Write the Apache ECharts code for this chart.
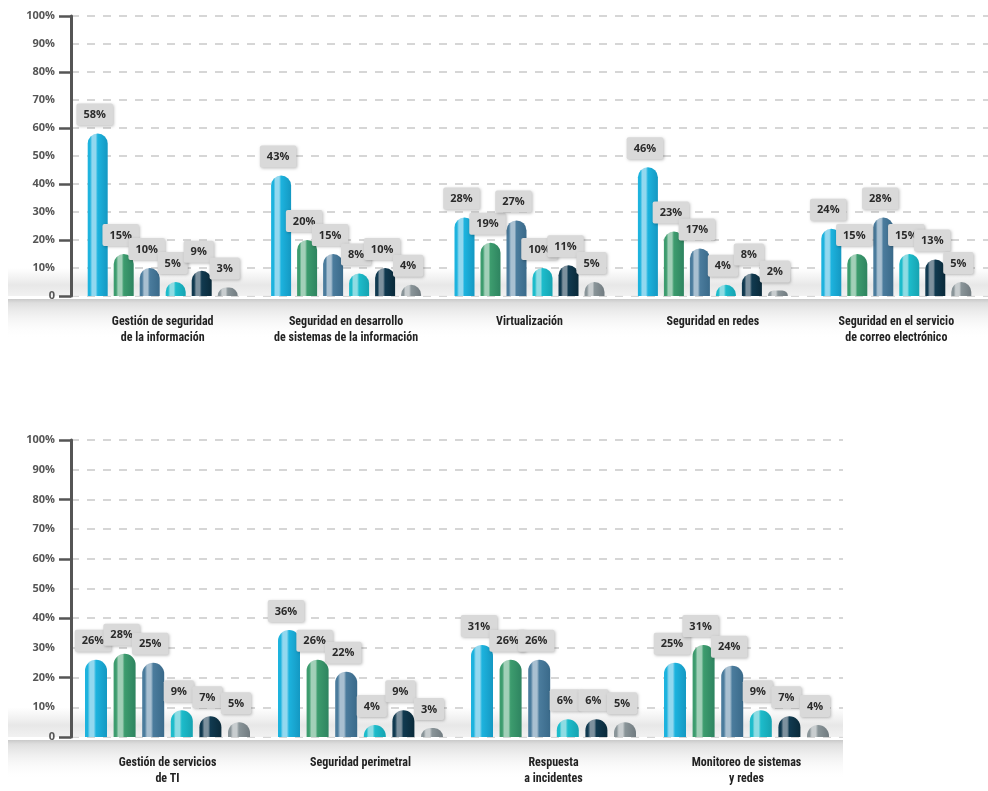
<!DOCTYPE html>
<html>
<head>
<meta charset="utf-8">
<script src="https://cdn.jsdelivr.net/npm/echarts@6/dist/echarts.min.js"></script>
<style>
html,body{margin:0;padding:0;background:#fff;}
#c{width:988px;height:791px;}
</style>
</head>
<body>
<div id="c"></div>
<script>
// ---- data ----
const categoriesTop = [
  'Gestión de seguridad\nde la información',
  'Seguridad en desarrollo\nde sistemas de la información',
  'Virtualización',
  'Seguridad en redes',
  'Seguridad en el servicio\nde correo electrónico'
];
const categoriesBottom = [
  'Gestión de servicios\nde TI',
  'Seguridad perimetral',
  'Respuesta\na incidentes',
  'Monitoreo de sistemas\ny redes'
];
const top1 = [58, 43, 28, 46, 24];
const top2 = [15, 20, 19, 23, 15];
const top3 = [10, 15, 27, 17, 28];
const top4 = [5, 8, 10, 4, 15];
const top5 = [9, 10, 11, 8, 13];
const top6 = [3, 4, 5, 2, 5];

const bottom1 = [26, 36, 31, 25];
const bottom2 = [28, 26, 26, 31];
const bottom3 = [25, 22, 26, 24];
const bottom4 = [9, 4, 6, 9];
const bottom5 = [7, 9, 6, 7];
const bottom6 = [5, 3, 5, 4];

const yTickLabels = ['0', '10%', '20%', '30%', '40%', '50%', '60%', '70%', '80%', '90%', '100%'];

// ---- styles ----
const palette = [
  { base: '#1db3de', light: '#92d8ef', dark: '#1498c2' },
  { base: '#3d9c6e', light: '#a2d0b8', dark: '#2e8460' },
  { base: '#4b7c9d', light: '#a9c0d1', dark: '#3a6a8a' },
  { base: '#1dbccb', light: '#8edce3', dark: '#16a3b1' },
  { base: '#113a50', light: '#7d919e', dark: '#0a2a3a' },
  { base: '#8a9599', light: '#c8cdcf', dark: '#717b80' }
];
function barColor(p) {
  return new echarts.graphic.LinearGradient(0, 0, 1, 0, [
    { offset: 0, color: p.base },
    { offset: 0.12, color: p.base },
    { offset: 0.22, color: p.light },
    { offset: 0.4, color: p.light },
    { offset: 0.5, color: p.base },
    { offset: 1, color: p.dark }
  ]);
}

const chart = echarts.init(document.getElementById('c'), null, { renderer: 'canvas' });

const labelStyle = {
  show: true,
  position: 'top',
  distance: 8,
  offset: [-3, 0],
  formatter: '{c}%',
  fontFamily: '"Open Sans", "DejaVu Sans", sans-serif',
  fontWeight: 'bold',
  fontSize: 11,
  color: '#2a2a2a',
  backgroundColor: '#d9d9d9',
  padding: [6, 7, 5, 7],
  borderRadius: 2,
  shadowColor: 'rgba(0,0,0,0.25)',
  shadowBlur: 3,
  shadowOffsetX: 1,
  shadowOffsetY: 1
};

function makeSeries(arrs, axisIdx, width) {
  return arrs.map((d, i) => ({
    type: 'bar',
    name: 'S' + (i + 1),
    xAxisIndex: axisIdx,
    yAxisIndex: axisIdx * 2,
    data: d,
    barWidth: width,
    barGap: '30%',
    barCategoryGap: '18%',
    itemStyle: { color: barColor(palette[i]), borderRadius: [width / 2, width / 2, 0, 0] },
    label: labelStyle,
    z: 3
  }));
}

function yAxisPair(gridIndex) {
  return [
    {
      type: 'value', gridIndex: gridIndex, min: 0, max: 100, interval: 10, position: 'left',
      axisLine: { show: true, lineStyle: { color: '#555', width: 3 } },
      axisTick: { show: false },
      axisLabel: {
        margin: 16,
        formatter: (v) => yTickLabels[Math.round(v / 10)],
        fontFamily: '"Open Sans", "DejaVu Sans", sans-serif',
        fontWeight: 'bold', fontSize: 11, color: '#555'
      },
      splitLine: { show: true, lineStyle: { type: [8, 8], color: '#d6d6d6', width: 2 } }
    },
    {
      type: 'value', gridIndex: gridIndex, min: 0, max: 100, interval: 20, position: 'left',
      axisLine: { show: false },
      axisTick: { show: true, length: 12, lineStyle: { color: '#555', width: 2.5 } },
      axisLabel: { show: false },
      splitLine: { show: false }
    }
  ];
}

const catLabel = {
  margin: 18,
  interval: 0,
  fontFamily: '"Liberation Sans Narrow", "Roboto Condensed", Roboto, sans-serif',
  fontWeight: 'bold',
  fontSize: 12,
  lineHeight: 16,
  color: '#222'
};

chart.setOption({
  animation: false,
  backgroundColor: '#ffffff',
  grid: [
    { left: 71, top: 16, width: 917, height: 280 },
    { left: 71, top: 440, width: 772, height: 297 }
  ],
  xAxis: [
    { type: 'category', gridIndex: 0, data: categoriesTop, axisLine: { show: false }, axisTick: { show: false }, axisLabel: catLabel },
    { type: 'category', gridIndex: 1, data: categoriesBottom, axisLine: { show: false }, axisTick: { show: false }, axisLabel: catLabel }
  ],
  yAxis: yAxisPair(0).concat(yAxisPair(1)),
  series: makeSeries([top1, top2, top3, top4, top5, top6], 0, 20)
    .concat(makeSeries([bottom1, bottom2, bottom3, bottom4, bottom5, bottom6], 1, 22))
});

// decorative floor and shelf bands, positioned from the axes
function decor(yAxisIdx, rightX) {
  const y0 = chart.convertToPixel({ yAxisIndex: yAxisIdx }, 0);
  const y10 = chart.convertToPixel({ yAxisIndex: yAxisIdx }, 10);
  return [
    {
      type: 'rect', z: 0, silent: true,
      shape: { x: 8, y: y10, width: rightX - 8, height: y0 - y10 },
      style: { fill: new echarts.graphic.LinearGradient(0, 0, 0, 1, [
        { offset: 0, color: 'rgba(230,230,230,0)' },
        { offset: 0.6, color: 'rgba(226,226,226,0.8)' },
        { offset: 1, color: 'rgba(240,240,240,0.9)' }
      ]) }
    },
    {
      type: 'rect', z: 0, silent: true,
      shape: { x: 8, y: y0 + 3, width: rightX - 8, height: 40 },
      style: { fill: new echarts.graphic.LinearGradient(0, 0, 0, 1, [
        { offset: 0, color: '#c9c9c9' },
        { offset: 0.1, color: '#dedede' },
        { offset: 1, color: 'rgba(255,255,255,0)' }
      ]) }
    }
  ];
}
chart.setOption({
  graphic: decor(0, 988).concat(decor(2, 843))
});
</script>
</body>
</html>
